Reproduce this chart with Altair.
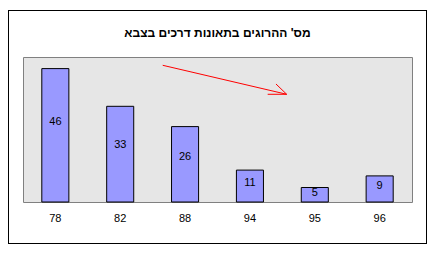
import altair as alt
import pandas as pd

years = ["78", "82", "88", "94", "95", "96"]
deaths = [46, 33, 26, 11, 5, 9]
title_text = "מס' ההרוגים בתאונות דרכים בצבא"

# annotation arrow, in (category index, value) units
arrow_x = [2.155, 3.774, 3.902]
arrow_y = [47.14, 37.14, 40.69]
arrow_tip_x = 4.067
arrow_tip_y = 37.14

df = pd.DataFrame({"year": years, "deaths": deaths})
arrow_df = pd.DataFrame({"x": arrow_x, "y": arrow_y,
                         "x2": [arrow_tip_x] * 3, "y2": [arrow_tip_y] * 3})

yscale = alt.Scale(domain=[0, 50], nice=False, zero=True)
xscale = alt.Scale(paddingInner=0.583, paddingOuter=0.29)

bars = alt.Chart(df).mark_bar(color="#9999FF", stroke="black", strokeWidth=1).encode(
    x=alt.X("year:O", sort=years, scale=xscale,
            axis=alt.Axis(title=None, labelAngle=0, ticks=False, domain=False,
                          labelPadding=10, labelFont="Liberation Sans",
                          labelFontSize=11, labelColor="black")),
    y=alt.Y("deaths:Q", scale=yscale, axis=None),
)

labels = alt.Chart(df).transform_calculate(pos="datum.deaths * 0.6").mark_text(
    font="Liberation Sans", fontSize=11, color="black", baseline="middle"
).encode(
    x=alt.X("year:O", sort=years, scale=xscale, axis=None),
    y=alt.Y("pos:Q", scale=yscale, axis=None),
    text="deaths:Q",
)

arrow = alt.Chart(arrow_df).mark_rule(color="#FF0000", strokeWidth=1).encode(
    x=alt.X("x:Q", scale=alt.Scale(domain=[0, 6], nice=False, zero=False), axis=None),
    x2="x2:Q",
    y=alt.Y("y:Q", scale=yscale, axis=None),
    y2="y2:Q",
)

frame = alt.Chart(df).mark_rect(fill=None, stroke="black", strokeWidth=1).encode(
    x=alt.value(-14.5), x2=alt.value(403.5), y=alt.value(-46.5), y2=alt.value(186.5)
)

chart = alt.layer(bars, labels, arrow, frame).resolve_scale(x="independent").properties(
    width=389, height=145,
    title=alt.TitleParams(title_text, font="Liberation Sans", fontSize=12,
                          fontWeight="bold", color="black", anchor="middle",
                          baseline="bottom", offset=-42),
    autosize=alt.AutoSizeParams(type="none"),
    padding={"left": 23, "top": 57, "right": 23, "bottom": 53},
    background="white",
).configure_view(fill="#E6E6E6", stroke="#808080", strokeWidth=1)

chart.save("out.html", embed_options={"renderer": "svg", "actions": False})
